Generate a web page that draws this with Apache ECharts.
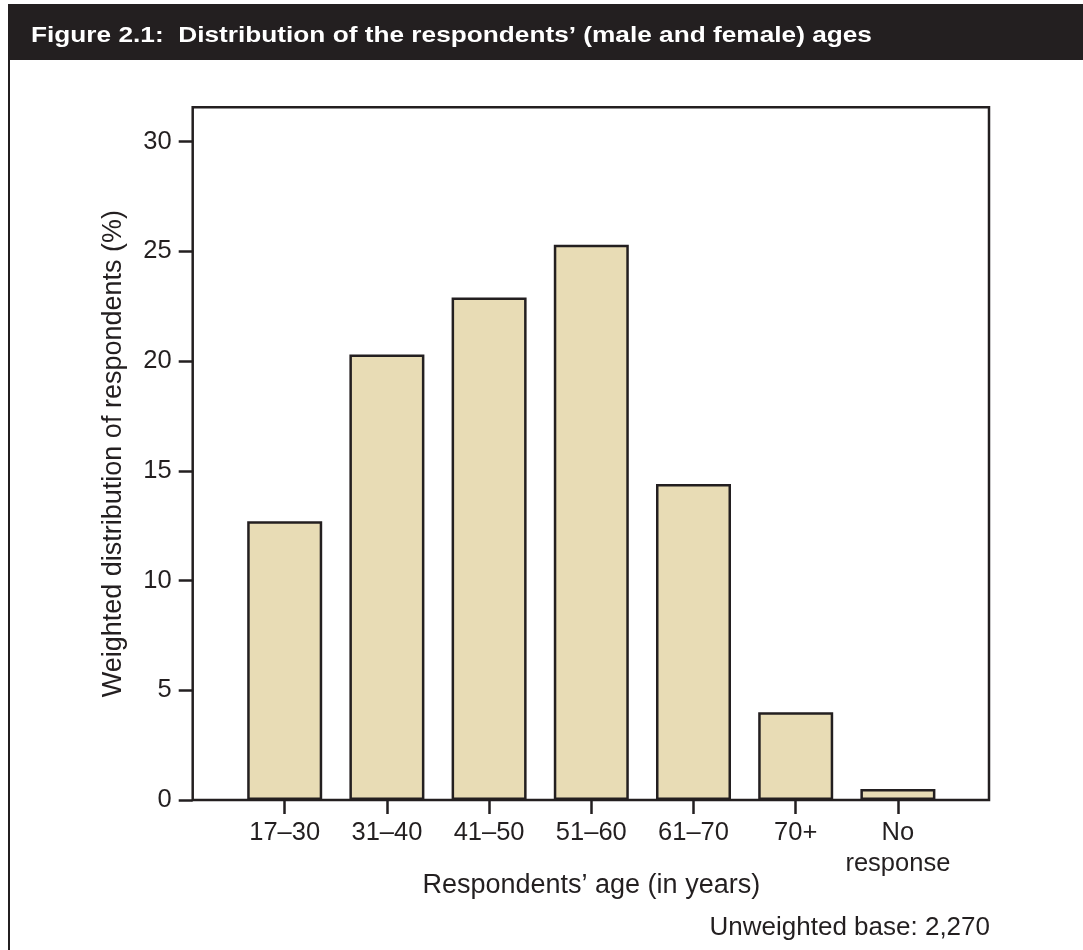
<!DOCTYPE html>
<html>
<head>
<meta charset="utf-8">
<script src="https://cdn.jsdelivr.net/npm/echarts@6/dist/echarts.min.js"></script>
<style>
  html, body { margin: 0; padding: 0; background: #ffffff; }
  #chart { width: 1083px; height: 950px; }
</style>
</head>
<body>
<div id="chart"></div>
<script>
const categories = ['17–30', '31–40', '41–50', '51–60', '61–70', '70+', 'No\nresponse'];
const values = [12.7, 20.3, 22.9, 25.3, 14.4, 4.0, 0.5];
const yTicks = [0, 5, 10, 15, 20, 25, 30];
const titleText = 'Figure 2.1:  Distribution of the respondents’ (male and female) ages';
const xAxisTitle = 'Respondents’ age (in years)';
const yAxisTitle = 'Weighted distribution of respondents (%)';
const footnote = 'Unweighted base: 2,270';

const ink = '#231f20';
const font = '"Liberation Sans", Arial, Helvetica, sans-serif';
const fs = 25.5;
const nameFs = 27;
const yMax = 31.57;

const chart = echarts.init(document.getElementById('chart'), null, { renderer: 'canvas' });
chart.setOption({
  backgroundColor: '#ffffff',
  animation: false,
  textStyle: { fontFamily: font, color: ink },
  grid: [
    { left: 192.7, top: 107.3, width: 796.3, height: 692.7, show: true, borderColor: ink, borderWidth: 2.5, backgroundColor: 'transparent', containLabel: false },
    { left: 233.6, top: 107.3, width: 715.4, height: 692.7, containLabel: false }
  ],
  xAxis: [
    { type: 'value', gridIndex: 0, show: false, min: 0, max: 1 },
    {
      type: 'category', gridIndex: 1, data: categories,
      axisLine: { show: false },
      axisTick: { show: true, alignWithLabel: true, length: 14, lineStyle: { color: ink, width: 2.5 } },
      axisLabel: { color: ink, fontSize: fs, fontFamily: font, margin: 17, lineHeight: 31, interval: 0 },
      name: xAxisTitle, nameLocation: 'middle', nameGap: 72, nameMoveOverlap: false,
      nameTextStyle: { color: ink, fontSize: nameFs, fontFamily: font }
    }
  ],
  yAxis: [
    {
      type: 'value', gridIndex: 0, min: 0, max: yMax, interval: 5,
      axisLine: { show: false },
      splitLine: { show: false },
      axisTick: { show: true, length: 14, customValues: yTicks, lineStyle: { color: ink, width: 2.5 } },
      axisLabel: { color: ink, fontSize: fs, fontFamily: font, margin: 21, customValues: yTicks },
      name: yAxisTitle, nameLocation: 'middle', nameGap: 66, nameRotate: 90, nameMoveOverlap: false,
      nameTextStyle: { color: ink, fontSize: nameFs, fontFamily: font }
    },
    { type: 'value', gridIndex: 1, min: 0, max: yMax, show: false, splitLine: { show: false } }
  ],
  series: [{
    type: 'bar', xAxisIndex: 1, yAxisIndex: 1,
    data: values, barWidth: 75,
    itemStyle: { color: '#e8dcb5', borderColor: ink, borderWidth: 2.5 }
  }],
  graphic: [
    { type: 'rect', shape: { x: 8, y: 4, width: 1075, height: 56 }, style: { fill: ink }, z: 10 },
    { type: 'text', x: 31, y: 36, scaleX: 1.22, style: { text: titleText, fill: '#ffffff', font: 'bold 21.5px "Liberation Sans", Arial, sans-serif', verticalAlign: 'middle', align: 'left' }, z: 11 },
    { type: 'line', shape: { x1: 9, y1: 60, x2: 9, y2: 950 }, style: { stroke: ink, lineWidth: 2 }, z: 10 },
    { type: 'text', x: 990, y: 928, style: { text: footnote, fill: ink, font: '26px ' + font, align: 'right', verticalAlign: 'middle' }, z: 11 }
  ]
});
</script>
</body>
</html>
